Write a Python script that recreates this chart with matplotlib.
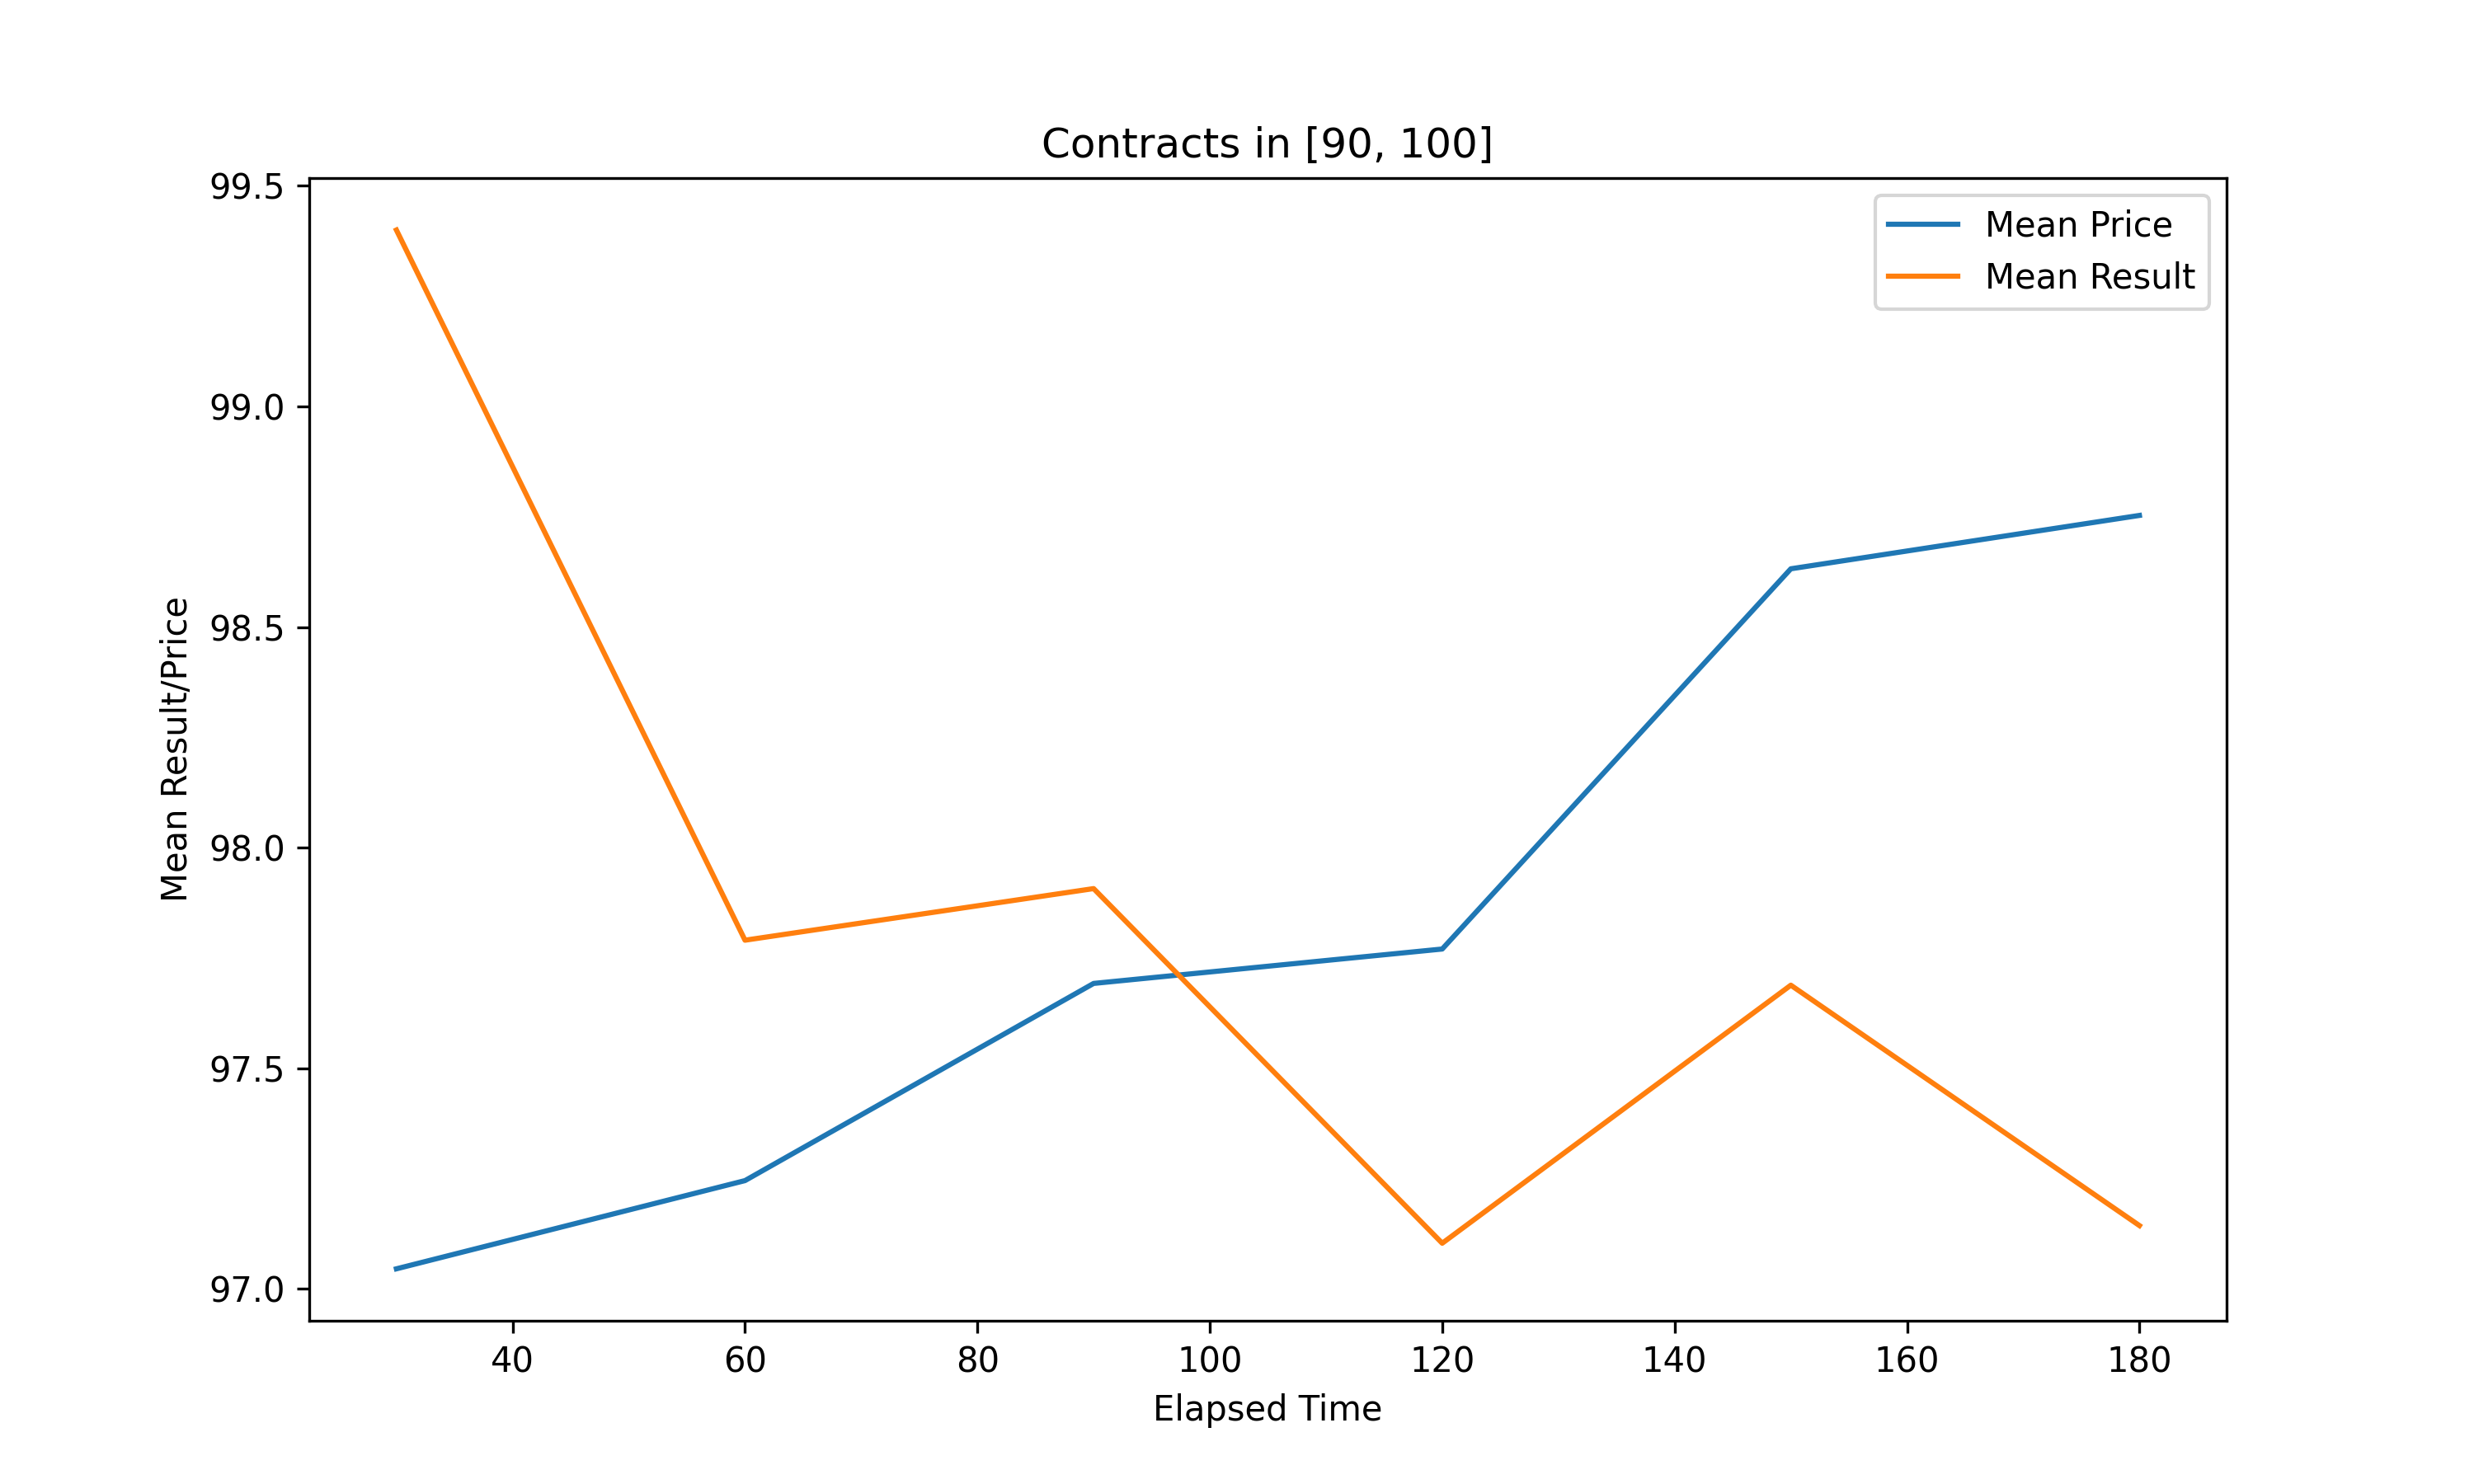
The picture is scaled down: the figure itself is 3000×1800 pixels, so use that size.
import matplotlib
matplotlib.use("Agg")
from matplotlib import pyplot as plt

# elapsed time buckets
elapsed = [30, 60, 90, 120, 150, 180]
mean_price = [97.045, 97.245, 97.692, 97.770, 98.632, 98.753]
mean_result = [99.400, 97.790, 97.907, 97.103, 97.688, 97.143]

fig, ax = plt.subplots(figsize=(10, 6), dpi=300)
ax.plot(elapsed, mean_price, label="Mean Price")
ax.plot(elapsed, mean_result, label="Mean Result")
ax.set_title("Contracts in [90, 100]")
ax.set_xlabel("Elapsed Time")
ax.set_ylabel("Mean Result/Price")
ax.legend()
fig.savefig("out.png")
